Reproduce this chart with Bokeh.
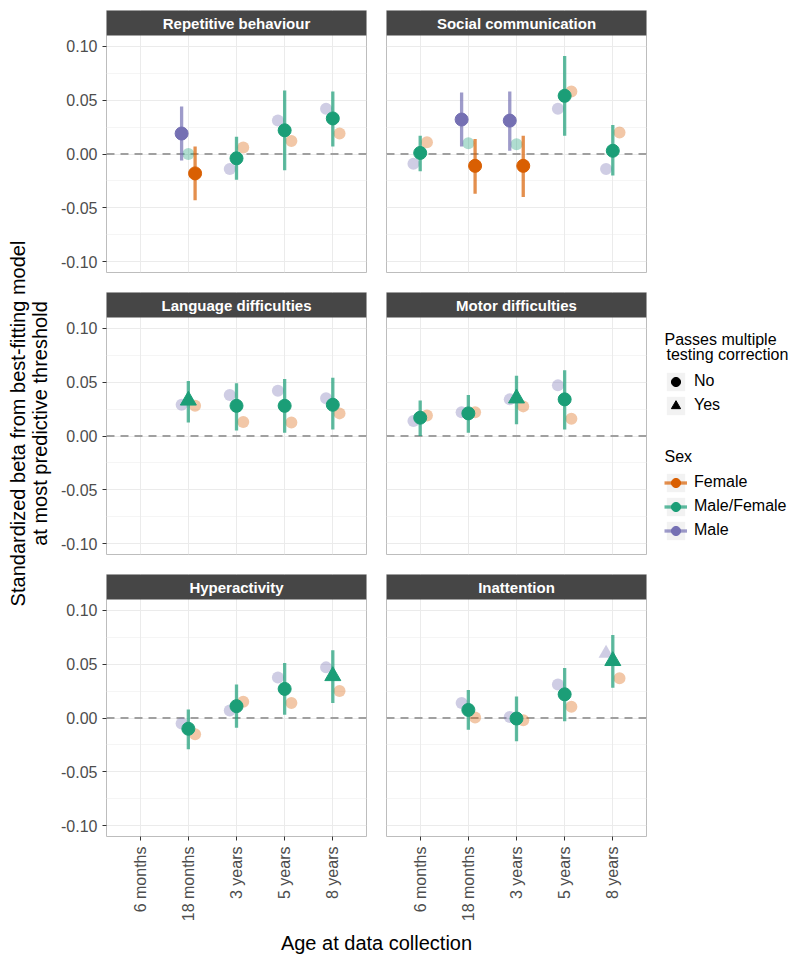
import math
import pandas as pd
from bokeh.plotting import figure
from bokeh.layouts import row, column
from bokeh.models import (ColumnDataSource, FactorRange, Range1d, LinearAxis, CategoricalAxis,
                          FixedTicker, CategoricalTicker, Grid, Span, BoxAnnotation, Label,
                          Legend, LegendItem, PrintfTickFormatter)
from bokeh.transform import dodge
from bokeh.embed import file_html
from bokeh.resources import INLINE

# ---------------- data ----------------
AGES = ["6 months", "18 months", "3 years", "5 years", "8 years"]
PANELS = ["Repetitive behaviour", "Social communication",
          "Language difficulties", "Motor difficulties",
          "Hyperactivity", "Inattention"]
SEX_LEVELS = ["Female", "Male/Female", "Male"]
PASS_LEVELS = ["No", "Yes"]
Y_TICKS = [-0.10, -0.05, 0.00, 0.05, 0.10]
Y_MINOR_TICKS = [-0.075, -0.025, 0.025, 0.075]
Y_LIMITS = [-0.11, 0.11]
ZERO = 0.0

PANEL = (["Repetitive behaviour"] * 12 + ["Social communication"] * 15 +
         ["Language difficulties"] * 12 + ["Motor difficulties"] * 12 +
         ["Hyperactivity"] * 12 + ["Inattention"] * 12)
AGE = (
    # Repetitive behaviour
    ["18 months"] * 3 + ["3 years"] * 3 + ["5 years"] * 3 + ["8 years"] * 3 +
    # Social communication
    ["6 months"] * 3 + ["18 months"] * 3 + ["3 years"] * 3 + ["5 years"] * 3 + ["8 years"] * 3 +
    # Language difficulties
    ["18 months"] * 3 + ["3 years"] * 3 + ["5 years"] * 3 + ["8 years"] * 3 +
    # Motor difficulties
    ["6 months"] * 3 + ["18 months"] * 3 + ["3 years"] * 3 + ["5 years"] * 3 +
    # Hyperactivity
    ["18 months"] * 3 + ["3 years"] * 3 + ["5 years"] * 3 + ["8 years"] * 3 +
    # Inattention
    ["18 months"] * 3 + ["3 years"] * 3 + ["5 years"] * 3 + ["8 years"] * 3
)
SEX = ["Male", "Male/Female", "Female"] * 25
BETA = [
    0.019, 0.000, -0.018, -0.014, -0.004, 0.006, 0.031, 0.022, 0.012, 0.042, 0.033, 0.019,
    -0.009, 0.001, 0.011, 0.032, 0.010, -0.011, 0.031, 0.009, -0.011, 0.042, 0.054, 0.058, -0.014, 0.003, 0.020,
    0.029, 0.033, 0.028, 0.038, 0.028, 0.013, 0.042, 0.028, 0.0125, 0.035, 0.029, 0.021,
    0.014, 0.017, 0.019, 0.022, 0.021, 0.022, 0.034, 0.035, 0.0275, 0.047, 0.034, 0.016,
    -0.005, -0.010, -0.015, 0.007, 0.011, 0.015, 0.0375, 0.027, 0.014, 0.047, 0.039, 0.025,
    0.014, 0.0075, 0.0005, 0.001, -0.0005, -0.002, 0.031, 0.022, 0.0105, 0.060, 0.053, 0.037,
]
N = None
LOWER = [
    -0.006, N, -0.043, N, -0.024, N, N, -0.015, N, N, 0.007, N,
    N, -0.016, N, 0.007, N, -0.037, 0.003, N, -0.040, N, 0.017, N, N, -0.020, N,
    N, 0.0125, N, N, 0.005, N, N, 0.003, N, N, 0.006, N,
    N, 0.000, N, N, 0.003, N, N, 0.011, N, N, 0.006, N,
    N, -0.029, N, N, -0.009, N, N, 0.003, N, N, 0.014, N,
    N, -0.011, N, N, -0.0215, N, N, -0.003, N, N, 0.028, N,
]
UPPER = [
    0.044, N, 0.007, N, 0.016, N, N, 0.059, N, N, 0.058, N,
    N, 0.017, N, 0.057, N, 0.014, 0.058, N, 0.017, N, 0.091, N, N, 0.027, N,
    N, 0.051, N, N, 0.049, N, N, 0.053, N, N, 0.054, N,
    N, 0.033, N, N, 0.038, N, N, 0.056, N, N, 0.061, N,
    N, 0.008, N, N, 0.031, N, N, 0.051, N, N, 0.063, N,
    N, 0.026, N, N, 0.020, N, N, 0.0465, N, N, 0.077, N,
]
BEST = [u is not None for u in UPPER]
PASSES = (
    ["No"] * 12 +
    ["No"] * 15 +
    ["No", "Yes", "No"] + ["No"] * 9 +
    ["No"] * 6 + ["No", "Yes", "No"] + ["No"] * 3 +
    ["No"] * 9 + ["No", "Yes", "No"] +
    ["No"] * 9 + ["Yes", "Yes", "No"]
)

df = pd.DataFrame(dict(panel=PANEL, age=AGE, sex=SEX, beta=BETA,
                       lower=[float("nan") if v is None else v for v in LOWER],
                       upper=[float("nan") if v is None else v for v in UPPER],
                       best=BEST, passes=PASSES))

# ---------------- style ----------------
FONT = "Liberation Sans"
COLORS = {"Female": "#D95F02", "Male/Female": "#1B9E77", "Male": "#7570B3"}
OFFSET = {"Male": -0.14, "Male/Female": 0.0, "Female": 0.14}
MARKERS = {"No": ("circle", 13), "Yes": ("triangle", 16)}
FRAME_W = 260
PLOT_H = 237
STRIP_H = 25
FRAME_H = PLOT_H + STRIP_H
Y_TOP = Y_LIMITS[1] + (Y_LIMITS[1] - Y_LIMITS[0]) * STRIP_H / PLOT_H
STRIP_FILL = "#464646"
BORDER = "#BDBDBD"
TICK_TEXT = "#4D4D4D"
TOP_PAD = 10
YLAB_W = 57


def make_panel(name, col, r):
    left = col == 0
    bottom = r == 2
    mbl = 49 if left else 10
    mbr = 10 if left else 1
    mbt = TOP_PAD if r == 0 else 10
    mbb = 93 if bottom else 10
    p = figure(width=mbl + FRAME_W + mbr, height=mbt + FRAME_H + mbb,
               x_range=FactorRange(factors=AGES, range_padding=0.2, range_padding_units="absolute"),
               y_range=Range1d(Y_LIMITS[0], Y_TOP),
               x_axis_location=None, y_axis_location=None,
               toolbar_location=None, output_backend="svg",
               min_border_left=mbl, min_border_right=mbr,
               min_border_top=mbt, min_border_bottom=mbb,
               outline_line_color=BORDER, outline_line_width=1,
               background_fill_color="white", border_fill_color="white")
    p.xgrid.visible = False
    p.ygrid.visible = False
    p.add_layout(Grid(dimension=1, ticker=FixedTicker(ticks=Y_TICKS, minor_ticks=Y_MINOR_TICKS),
                      grid_line_color="#EBEBEB", grid_line_width=1,
                      minor_grid_line_color="#F5F5F5", minor_grid_line_width=1))
    p.add_layout(Grid(dimension=0, ticker=CategoricalTicker(),
                      grid_line_color="#EBEBEB", grid_line_width=1))
    p.add_layout(Span(location=ZERO, dimension="width", line_color="#A0A0A0",
                      line_dash="8 6", line_width=1.8, level="underlay"))

    if left:
        yax = LinearAxis(ticker=FixedTicker(ticks=Y_TICKS),
                         formatter=PrintfTickFormatter(format="%.2f"),
                         axis_line_color=None, major_tick_out=4, major_tick_in=0,
                         major_tick_line_color="#333333", minor_tick_line_color=None,
                         major_label_standoff=5, major_label_text_font=FONT,
                         major_label_text_font_size="16px", major_label_text_color=TICK_TEXT)
        p.add_layout(yax, "left")
    if bottom:
        xax = CategoricalAxis(axis_line_color=None, major_tick_out=4, major_tick_in=0,
                              major_tick_line_color="#333333", minor_tick_line_color=None,
                              major_label_orientation=math.pi / 2, major_label_standoff=6,
                              major_label_text_font=FONT, major_label_text_font_size="16px",
                              major_label_text_color=TICK_TEXT)
        p.add_layout(xax, "below")

    sub = df[df.panel == name]
    # faded estimates
    for sex in ["Male", "Male/Female", "Female"]:
        for passes in PASS_LEVELS:
            marker, size = MARKERS[passes]
            s = sub[(sub.sex == sex) & (~sub.best) & (sub.passes == passes)]
            p.scatter(x=dodge("age", OFFSET[sex], range=p.x_range), y="beta",
                      source=ColumnDataSource(s), marker=marker, size=size - 1,
                      fill_color=COLORS[sex], fill_alpha=0.35, line_color=None)
    # confidence intervals
    for sex in ["Male", "Male/Female", "Female"]:
        s = sub[(sub.sex == sex) & (sub.best)]
        p.segment(x0=dodge("age", OFFSET[sex], range=p.x_range), y0="lower",
                  x1=dodge("age", OFFSET[sex], range=p.x_range), y1="upper",
                  source=ColumnDataSource(s), line_color=COLORS[sex],
                  line_alpha=0.7, line_width=3.3)
    # best estimates
    for sex in ["Male", "Male/Female", "Female"]:
        for passes in PASS_LEVELS:
            marker, size = MARKERS[passes]
            s = sub[(sub.sex == sex) & (sub.best) & (sub.passes == passes)]
            p.scatter(x=dodge("age", OFFSET[sex], range=p.x_range), y="beta",
                      source=ColumnDataSource(s), marker=marker, size=size,
                      fill_color=COLORS[sex], fill_alpha=1.0,
                      line_color=COLORS[sex], line_width=1)

    # facet strip
    p.add_layout(BoxAnnotation(bottom=Y_LIMITS[1], fill_color=STRIP_FILL, fill_alpha=1.0,
                               line_color=None))
    p.add_layout(Label(x=FRAME_W / 2, y=(Y_LIMITS[1] + Y_TOP) / 2, x_units="screen",
                       text=name, text_align="center", text_baseline="middle",
                       text_font=FONT, text_font_style="bold", text_font_size="15px",
                       text_color="white"))
    return p


panels = [make_panel(name, i % 2, i // 2) for i, name in enumerate(PANELS)]

TOTAL_H = (TOP_PAD + FRAME_H + 10) + 282 + 365 + 28


def blank_fig(width, height, **kw):
    f = figure(width=width, height=height, toolbar_location=None, output_backend="svg",
               x_axis_location=None, y_axis_location=None, min_border=0,
               outline_line_color=None, x_range=Range1d(0, 1), y_range=Range1d(0, 1), **kw)
    f.xgrid.visible = False
    f.ygrid.visible = False
    return f


# y-axis title
ylab = blank_fig(YLAB_W, TOTAL_H)
for xpos, txt in [(17, "Standardized beta from best-fitting model"),
                  (39, "at most predictive threshold")]:
    ylab.add_layout(Label(x=xpos, y=534, x_units="screen", y_units="screen", text=txt,
                          angle=math.pi / 2, text_align="center", text_baseline="middle",
                          text_font=FONT, text_font_size="20px", text_color="black"))

# x-axis title
xlab = blank_fig(590, 28)
xlab.add_layout(Label(x=319, y=15, x_units="screen", y_units="screen",
                      text="Age at data collection", text_align="center",
                      text_baseline="middle", text_font=FONT, text_font_size="20px",
                      text_color="black"))

# legends (renderers hold a single NaN point so only their legend keys are drawn)
leg = blank_fig(144, TOTAL_H)
hidden = ColumnDataSource(dict(x=[float("nan")], y=[float("nan")]))
key_bg = leg.quad(left="x", right="x", top="y", bottom="y", source=hidden,
                  fill_color="#F2F2F2", line_color=None)
shape_items = []
for passes in PASS_LEVELS:
    marker, size = MARKERS[passes]
    r = leg.scatter("x", "y", source=hidden, marker=marker, size=size,
                    fill_color="black", line_color="black")
    shape_items.append(LegendItem(label=passes, renderers=[key_bg, r]))
sex_items = []
for sex in SEX_LEVELS:
    lr = leg.line("x", "y", source=hidden, line_color=COLORS[sex], line_alpha=0.7, line_width=3.3)
    cr = leg.scatter("x", "y", source=hidden, marker="circle", size=13,
                     fill_color=COLORS[sex], line_color=COLORS[sex])
    sex_items.append(LegendItem(label=sex, renderers=[key_bg, lr, cr]))

common = dict(margin=0, padding=0, spacing=1, glyph_width=23, glyph_height=23,
              label_height=23, label_width=20, label_standoff=7,
              border_line_color=None, background_fill_alpha=0,
              label_text_font=FONT, label_text_font_size="16px", label_text_color="black")
leg.add_layout(Legend(items=shape_items, location=(17, 540.5), **common))
leg.add_layout(Legend(items=sex_items, location=(17, 415.5), **common))
for xpos, ypos, txt in [(17, 618, "Passes multiple"), (19, 603, "testing correction"),
                        (17, 501, "Sex")]:
    leg.add_layout(Label(x=xpos, y=ypos, x_units="screen", y_units="screen", text=txt,
                         text_align="left", text_baseline="middle", text_font=FONT,
                         text_font_size="16px", text_color="black"))

grid_col = column(row(panels[0], panels[1]), row(panels[2], panels[3]),
                  row(panels[4], panels[5]), xlab)
layout = row(ylab, grid_col, leg)

open("out.html", "w").write(file_html(layout, INLINE))
